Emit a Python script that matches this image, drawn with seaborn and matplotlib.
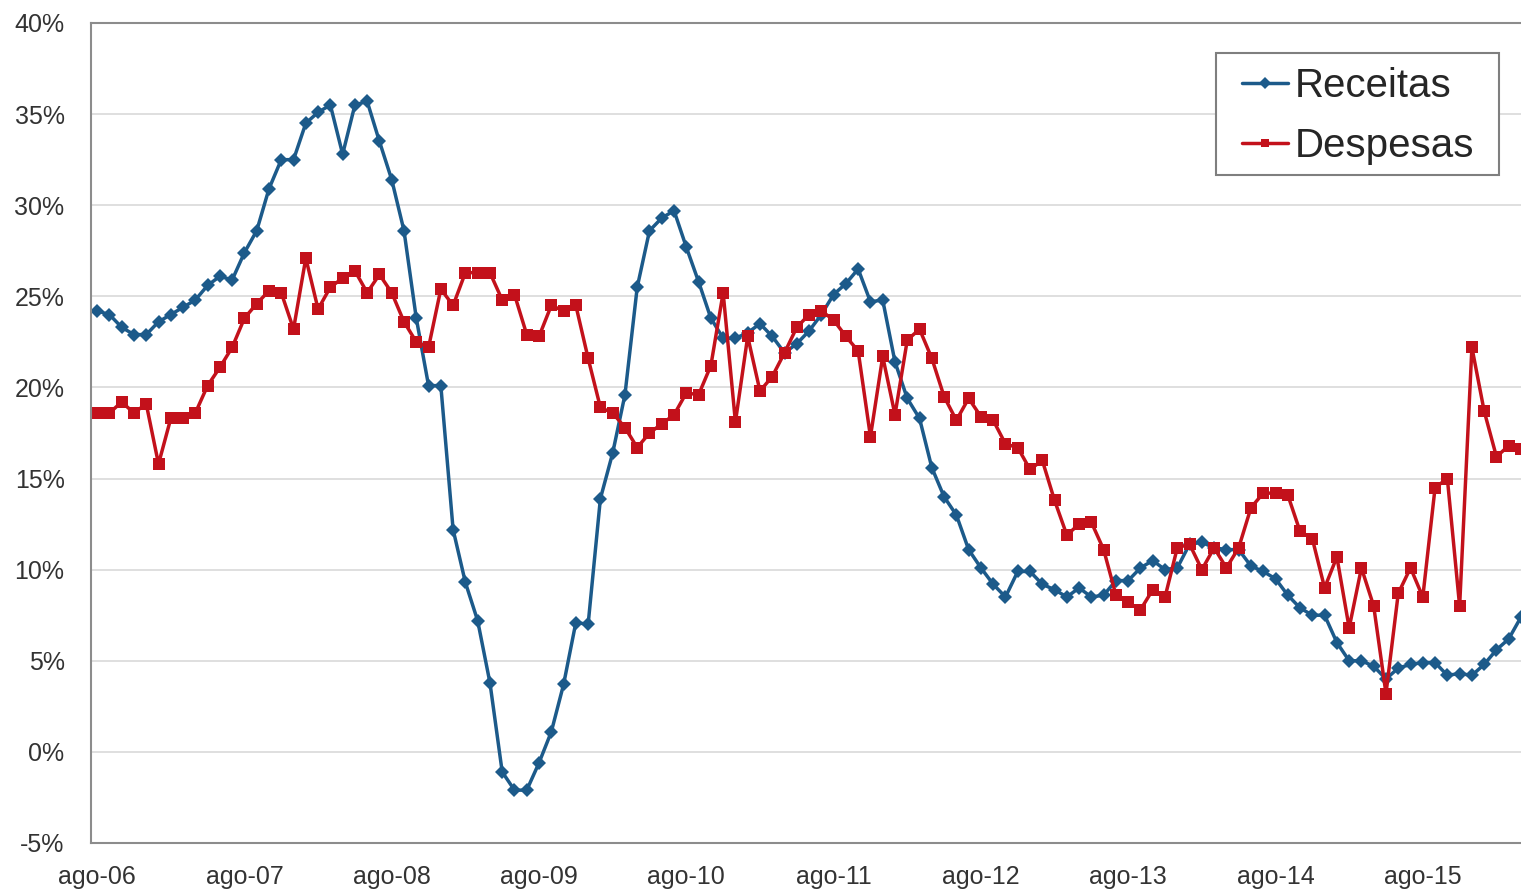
import matplotlib
matplotlib.use("Agg")
import matplotlib.pyplot as plt
import matplotlib.patches as mpatches
import seaborn as sns
import pandas as pd
import numpy as np

# growth (% a.a.), monthly from ago-06 to abr-16
receitas = [24.2, 24.0, 23.3, 22.9, 22.9, 23.6, 24.0, 24.4, 24.8, 25.6,
            26.1, 25.9, 27.4, 28.6, 30.9, 32.5, 32.5, 34.5, 35.1, 35.5,
            32.8, 35.5, 35.7, 33.5, 31.4, 28.6, 23.8, 20.1, 20.1, 12.2,
            9.3, 7.2, 3.8, -1.1, -2.1, -2.1, -0.6, 1.1, 3.7, 7.1,
            7.0, 13.9, 16.4, 19.6, 25.5, 28.6, 29.3, 29.7, 27.7, 25.8,
            23.8, 22.7, 22.7, 23.0, 23.5, 22.8, 21.9, 22.4, 23.1, 24.0,
            25.1, 25.7, 26.5, 24.7, 24.8, 21.4, 19.4, 18.3, 15.6, 14.0,
            13.0, 11.1, 10.1, 9.2, 8.5, 9.9, 9.9, 9.2, 8.9, 8.5,
            9.0, 8.5, 8.6, 9.4, 9.4, 10.1, 10.5, 10.0, 10.1, 11.4,
            11.5, 11.2, 11.1, 11.1, 10.2, 9.9, 9.5, 8.6, 7.9, 7.5,
            7.5, 6.0, 5.0, 5.0, 4.7, 4.0, 4.6, 4.8, 4.9, 4.9,
            4.2, 4.3, 4.2, 4.8, 5.6, 6.2, 7.4]
despesas = [18.6, 18.6, 19.2, 18.6, 19.1, 15.8, 18.3, 18.3, 18.6, 20.1,
            21.1, 22.2, 23.8, 24.6, 25.3, 25.2, 23.2, 27.1, 24.3, 25.5,
            26.0, 26.4, 25.2, 26.2, 25.2, 23.6, 22.5, 22.2, 25.4, 24.5,
            26.3, 26.3, 26.3, 24.8, 25.1, 22.9, 22.8, 24.5, 24.2, 24.5,
            21.6, 18.9, 18.6, 17.8, 16.7, 17.5, 18.0, 18.5, 19.7, 19.6,
            21.2, 25.2, 18.1, 22.8, 19.8, 20.6, 21.9, 23.3, 24.0, 24.2,
            23.7, 22.8, 22.0, 17.3, 21.7, 18.5, 22.6, 23.2, 21.6, 19.5,
            18.2, 19.4, 18.4, 18.2, 16.9, 16.7, 15.5, 16.0, 13.8, 11.9,
            12.5, 12.6, 11.1, 8.6, 8.2, 7.8, 8.9, 8.5, 11.2, 11.4,
            10.0, 11.2, 10.1, 11.2, 13.4, 14.2, 14.2, 14.1, 12.1, 11.7,
            9.0, 10.7, 6.8, 10.1, 8.0, 3.2, 8.7, 10.1, 8.5, 14.5,
            15.0, 8.0, 22.2, 18.7, 16.2, 16.8, 16.6]
tick_labels = ["ago-06", "ago-07", "ago-08", "ago-09", "ago-10",
               "ago-11", "ago-12", "ago-13", "ago-14", "ago-15"]

df = pd.DataFrame({
    "mes": np.arange(len(receitas)),
    "Receitas": receitas,
    "Despesas": despesas,
})

sns.set_style("white")
plt.rcParams["font.family"] = ["Liberation Sans", "DejaVu Sans"]

fig = plt.figure(figsize=(15.21, 8.89), dpi=100)
ax = fig.add_axes([91 / 1521, 46 / 889, 1430 / 1521, 820 / 889])

blue = "#1C5A8A"
red = "#C3111B"
sns.lineplot(x="mes", y="Receitas", data=df, ax=ax, color=blue, lw=2.5,
             marker="D", markersize=7.3, markeredgewidth=0, label="Receitas")
sns.lineplot(x="mes", y="Despesas", data=df, ax=ax, color=red, lw=2.5,
             marker="s", markersize=8.5, markeredgewidth=0, label="Despesas")

ax.set_xlim(-0.5, 116.0)
ax.set_ylim(-5, 40)
ax.set_yticks(range(-5, 41, 5))
ax.set_yticklabels([f"{v}%" for v in range(-5, 41, 5)])
ax.set_xticks(range(0, 109, 12))
ax.set_xticklabels(tick_labels)
ax.tick_params(axis="both", length=0, labelsize=18, colors="#333333")
ax.tick_params(axis="y", pad=19)
ax.tick_params(axis="x", pad=16)
ax.set_xlabel("")
ax.set_ylabel("")
ax.grid(axis="y", color="#DCDCDC", lw=1.3)
ax.set_axisbelow(True)

for s in ["left", "bottom", "top"]:
    ax.spines[s].set_color("#8C8C8C")
    ax.spines[s].set_linewidth(1.5)
ax.spines["right"].set_visible(False)

# legend box drawn separately so padding matches the Excel-style frame
box = mpatches.Rectangle((0.7867, 0.8146), 0.1979, 0.1488, transform=ax.transAxes,
                         facecolor="white", edgecolor="#7F7F7F", lw=1.5, zorder=4)
ax.add_patch(box)
leg = ax.legend(loc="upper left", bbox_to_anchor=(0.805, 0.946), fontsize=29,
                frameon=False, handlelength=1.15, handletextpad=0.15,
                borderpad=0, labelspacing=0.55, borderaxespad=0)
leg.set_zorder(5)
for h in leg.legend_handles:
    h.set_markersize(6)

plt.savefig("out.png", dpi=100)
